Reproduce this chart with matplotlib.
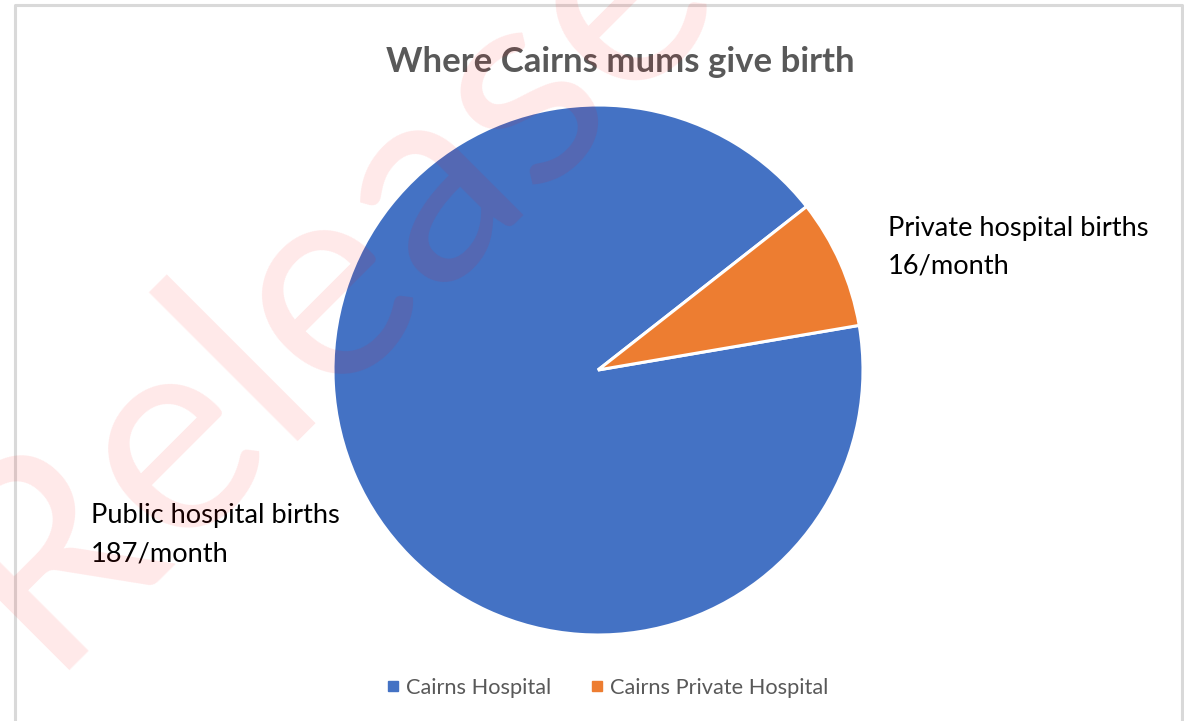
import matplotlib.pyplot as plt
from matplotlib.lines import Line2D

# data
labels = ["Cairns Hospital", "Cairns Private Hospital"]
births = [187, 16]
slice_text = ["Public hospital births\n187/month", "Private hospital births\n16/month"]
colors = ["#4472C4", "#ED7D31"]

W, H = 1184, 721
fig = plt.figure(figsize=(W / 100, H / 100), dpi=100)
font = ["Lato", "DejaVu Sans"]

# chart frame (light grey, open at the bottom)
frame = fig.add_axes([0, 0, 1, 1])
frame.set_xlim(0, W)
frame.set_ylim(H, 0)
frame.axis("off")
frame.plot([15, 15, 1182, 1182], [H + 5, 5, 5, H + 5], color="#d9d9d9", lw=2.2)

# pie
cx, cy, r = 598, 370, 265
ax = fig.add_axes([(cx - r) / W, (H - cy - r) / H, 2 * r / W, 2 * r / H])
wedges, _ = ax.pie(births, colors=colors, startangle=9.7, counterclock=False,
                   wedgeprops=dict(edgecolor="white", linewidth=2.2), radius=1)
ax.set_xlim(-1, 1)
ax.set_ylim(-1, 1)
ax.set_aspect("equal")

# slice labels
fig.text(91 / W, 1 - 535 / H, slice_text[0], fontsize=19.6, family=font,
         color="black", va="center", ha="left", linespacing=1.65)
fig.text(888 / W, 1 - 247 / H, slice_text[1], fontsize=19.6, family=font,
         color="black", va="center", ha="left", linespacing=1.65)

# title
fig.text(620 / W, 1 - 62 / H, "Where Cairns mums give birth", fontsize=25,
         fontweight="bold", family=font, color="#595959", ha="center", va="center")

# legend
handles = [Line2D([], [], marker="s", ls="none", color=c, markersize=7) for c in colors]
fig.legend(handles, labels, loc="center", bbox_to_anchor=(605 / W, 1 - 688 / H),
           ncol=2, frameon=False, prop=dict(family=font, size=15.7),
           labelcolor="#595959", handletextpad=0.1, columnspacing=1.6,
           handlelength=1.0)

# watermark on top
fig.text(326 / W, 1 - 273 / H, "Release", fontsize=205, family=font,
         color="red", alpha=0.09, rotation=45, ha="center", va="center",
         rotation_mode="anchor")

fig.savefig("out.png", dpi=100)
